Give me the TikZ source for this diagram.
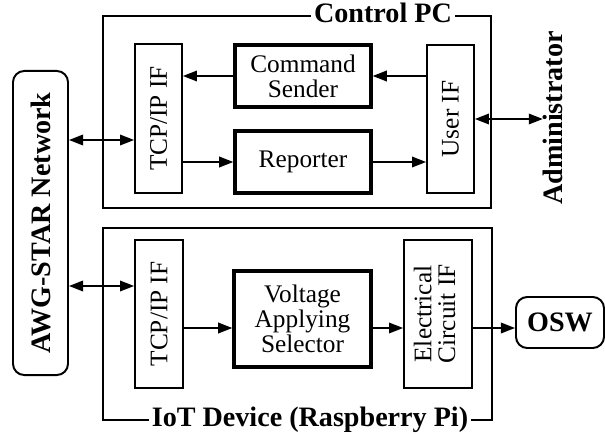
\documentclass[tikz,border=0pt]{standalone}
\usepackage{fontspec}
\setmainfont{Liberation Serif}
\usepackage{graphicx}
\usetikzlibrary{arrows.meta, positioning, calc}
\newcommand{\normalsz}{\fontsize{18}{18}\selectfont}
\newcommand{\boldsz}{\fontsize{20}{22}\selectfont\bfseries}
\newcommand{\vtext}[1]{\rotatebox{90}{#1}}

\begin{document}
\begin{tikzpicture}[x=0.025cm, y=-0.025cm,
    group/.style={draw, line width=1pt},
    block/.style={rectangle, draw, line width=2.4pt, inner sep=0pt, align=center, font=\normalsz},
    ifbox/.style={rectangle, draw, line width=1.3pt, inner sep=0pt, font=\normalsz},
    ext/.style={rectangle, rounded corners=8pt, draw, line width=1.4pt, inner sep=0pt, font=\boldsz},
    arrow/.style={-{Triangle[length=10pt, width=7.5pt]}, line width=1.2pt},
    biarrow/.style={{Triangle[length=10pt, width=7.5pt]}-{Triangle[length=10pt, width=7.5pt]}, line width=1.2pt},
    title/.style={fill=white, inner xsep=2pt, inner ysep=1pt, anchor=base, font=\boldsz}
]
\useasboundingbox (0,0) rectangle (605,434);

% the two machines
\draw[group] (103,16) rectangle (491,208);
\node[title] (pctitle) at (383,23) {Control PC};
\draw[group] (103,228) rectangle (492,420);
\node[title] (iottitle) at (310,426) {IoT Device (Raspberry Pi)};

% control PC
\node[ifbox, minimum width=1.175cm, minimum height=3.725cm] (tcpA) at (158.5,118.5) {\vtext{TCP/IP IF}};
\node[block, minimum width=3.4cm, minimum height=1.55cm] (cmd) at (303,76) {Command\\Sender};
\node[block, minimum width=3.4cm, minimum height=1.55cm] (rep) at (303,162) {Reporter};
\node[ifbox, minimum width=1.175cm, minimum height=3.7cm] (uif) at (450.5,119) {\vtext{User IF}};

% IoT device
\node[ifbox, minimum width=1.2cm, minimum height=3.7cm] (tcpB) at (159,314) {\vtext{TCP/IP IF}};
\node[block, minimum width=3.425cm, minimum height=2.4cm] (volt) at (302.5,319) {Voltage\\Applying\\Selector};
\node[ifbox, minimum width=1.7cm, minimum height=3.7cm] (elec) at (438,314) {\vtext{\fontsize{18}{16.5}\selectfont\begin{tabular}{@{}c@{}}Electrical\\Circuit IF\end{tabular}}};

% outside
\node[ext, minimum width=1.375cm, minimum height=7.6cm] (awg) at (40.5,223) {\vtext{AWG-STAR Network}};
\node[ext, minimum width=2.2cm, minimum height=1.275cm] (osw) at (560,322.5) {OSW};
\node[font=\boldsz, inner sep=0pt] (admin) at (553,118) {\vtext{Administrator}};

\coordinate (rowA) at (0,140);
\coordinate (rowB) at (0,286);
\coordinate (rowC) at (0,328);

\draw[biarrow] (awg.east |- rowA) -- (tcpA.west |- rowA);
\draw[arrow] (cmd.west) -- (tcpA.east |- cmd.west);
\draw[arrow] (uif.west |- cmd.east) -- (cmd.east);
\draw[arrow] (tcpA.east |- rep.west) -- (rep.west);
\draw[arrow] (rep.east) -- (uif.west |- rep.east);
\draw[biarrow] (uif.east) -- (admin.west |- uif.east);
\draw[biarrow] (awg.east |- rowB) -- (tcpB.west |- rowB);
\draw[arrow] (tcpB.east |- rowC) -- (volt.west |- rowC);
\draw[arrow] (volt.east |- rowC) -- (elec.west |- rowC);
\draw[arrow] (elec.east |- rowC) -- (osw.west |- rowC);
\end{tikzpicture}
\end{document}
